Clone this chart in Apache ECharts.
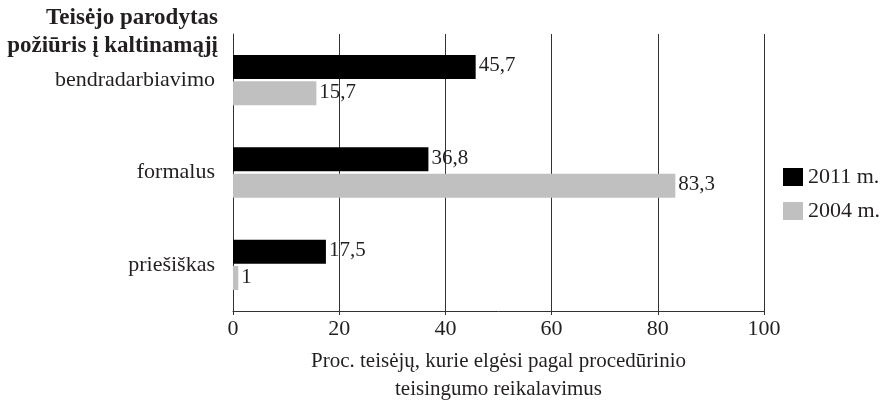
<!DOCTYPE html>
<html><head><meta charset="utf-8">
<script src="https://cdn.jsdelivr.net/npm/echarts@6/dist/echarts.min.js"></script>
<style>html,body{margin:0;padding:0;background:#fff}#c{width:881px;height:408px}</style>
</head><body><div id="c"></div>
<script>
var categories = ['bendradarbiavimo', 'formalus', 'priešiškas'];
var values2011 = [45.7, 36.8, 17.5];
var values2004 = [15.7, 83.3, 1];
var seriesNames = ['2011 m.', '2004 m.'];
var xTicks = [0, 20, 40, 60, 80, 100];
var titleLines = ['Teisėjo parodytas', 'požiūris į kaltinamąjį'];
var xName = 'Proc. teisėjų, kurie elgėsi pagal procedūrinio\nteisingumo reikalavimus';

var font = 'Liberation Serif';
var txt = '#231f20';
var chart = echarts.init(document.getElementById('c'));
function fmt(p){ return String(p.value).replace('.', ','); }
chart.setOption({
  animation: false,
  textStyle: {fontFamily: font},
  grid: {left: 233, right: 117, top: 34, bottom: 97, containLabel: false},
  legend: {
    orient: 'vertical', left: 778, top: 161, itemWidth: 20, itemHeight: 18, itemGap: 12,
    icon: 'rect',
    textStyle: {fontFamily: font, fontSize: 22, color: txt, padding: [0, 0, 0, 0]},
    data: seriesNames
  },
  graphic: [
    {type: 'text', x: 218, y: 7, style: {text: titleLines[0], textAlign: 'right', font: 'bold 23px "Liberation Serif"', fill: txt}},
    {type: 'text', x: 218, y: 35, style: {text: titleLines[1], textAlign: 'right', font: 'bold 23px "Liberation Serif"', fill: txt}}
  ],
  xAxis: {
    type: 'value', min: 0, max: 100, interval: 20,
    name: xName, nameLocation: 'middle', nameGap: 36,
    nameTextStyle: {fontFamily: font, fontSize: 21, color: txt, lineHeight: 28},
    axisLine: {show: true, lineStyle: {color: '#333', width: 1}},
    axisTick: {show: true, length: 4, lineStyle: {color: '#333'}},
    axisLabel: {fontFamily: font, fontSize: 22, color: txt, margin: 7},
    splitLine: {show: true, lineStyle: {color: '#333', width: 1}}
  },
  yAxis: {
    type: 'category', data: categories, inverse: true,
    axisLine: {show: true, lineStyle: {color: '#333'}},
    axisTick: {show: false},
    axisLabel: {fontFamily: font, fontSize: 22, color: txt, margin: 18}
  },
  series: [
    {name: seriesNames[0], type: 'bar', data: values2011, barWidth: 24, barGap: '10%',
     itemStyle: {color: '#000'},
     label: {show: true, position: 'right', distance: 3, formatter: fmt, fontFamily: font, fontSize: 21, color: txt, offset: [0, -1]}},
    {name: seriesNames[1], type: 'bar', data: values2004, barWidth: 24,
     itemStyle: {color: '#c0c0c0'},
     label: {show: true, position: 'right', distance: 3, formatter: fmt, fontFamily: font, fontSize: 21, color: txt, offset: [0, -1]}}
  ]
});
</script></body></html>
